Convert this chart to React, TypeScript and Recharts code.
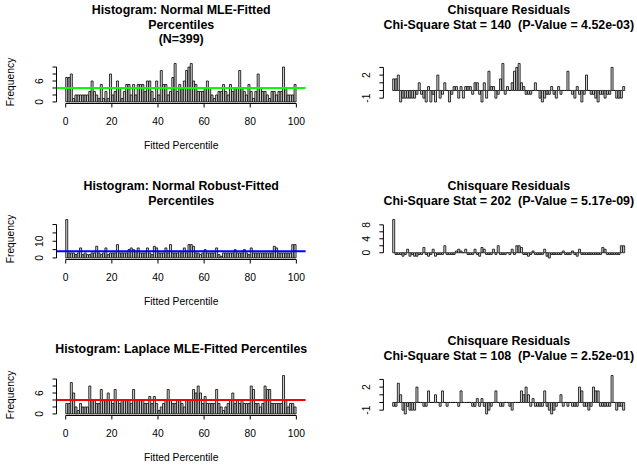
import React from "react";
import { BarChart, Bar, XAxis, YAxis, ReferenceLine } from "recharts";

// percentile bins 0..99 (width 1), N = 399 fitted percentiles per model
const SAMPLE_N = 399;
const binStart = [
  0, 1, 2, 3, 4, 5, 6, 7, 8, 9, 10, 11, 12, 13, 14, 15, 16, 17, 18, 19,
  20, 21, 22, 23, 24, 25, 26, 27, 28, 29, 30, 31, 32, 33, 34, 35, 36, 37, 38, 39,
  40, 41, 42, 43, 44, 45, 46, 47, 48, 49, 50, 51, 52, 53, 54, 55, 56, 57, 58, 59,
  60, 61, 62, 63, 64, 65, 66, 67, 68, 69, 70, 71, 72, 73, 74, 75, 76, 77, 78, 79,
  80, 81, 82, 83, 84, 85, 86, 87, 88, 89, 90, 91, 92, 93, 94, 95, 96, 97, 98, 99,
];

const normalMleCounts = [
  7, 7, 8, 1, 2, 2, 2, 2, 2, 2,
  3, 6, 3, 2, 1, 5, 1, 3, 1, 8,
  2, 3, 6, 4, 1, 3, 5, 5, 2, 5,
  2, 5, 5, 5, 3, 6, 6, 3, 1, 6,
  2, 9, 5, 5, 2, 3, 7, 11, 3, 5,
  4, 6, 9, 10, 11, 6, 5, 3, 3, 3,
  4, 6, 4, 2, 1, 2, 3, 3, 5, 3,
  2, 5, 3, 4, 4, 9, 4, 3, 2, 5,
  3, 1, 3, 8, 4, 3, 3, 2, 1, 3,
  3, 2, 3, 3, 10, 4, 2, 2, 2, 5,
];

const normalRobustCounts = [
  23, 3, 3, 3, 2, 3, 6, 2, 3, 2,
  2, 3, 3, 7, 3, 2, 3, 6, 2, 3,
  3, 3, 8, 3, 3, 3, 3, 5, 6, 5,
  4, 6, 3, 3, 3, 6, 3, 2, 7, 6,
  3, 3, 3, 6, 3, 8, 3, 3, 3, 4,
  3, 6, 3, 8, 8, 7, 3, 3, 2, 3,
  5, 3, 3, 3, 3, 6, 2, 1, 3, 3,
  3, 3, 3, 5, 3, 3, 3, 5, 3, 2,
  6, 3, 3, 3, 3, 3, 3, 3, 3, 3,
  7, 6, 3, 3, 3, 3, 3, 3, 8, 8,
];

const laplaceMleCounts = [
  3, 3, 9, 6, 2, 1, 3, 2, 2, 2,
  8, 4, 4, 3, 3, 7, 4, 4, 6, 4,
  3, 7, 4, 3, 4, 4, 4, 4, 3, 7,
  4, 4, 4, 4, 3, 3, 5, 3, 5, 3,
  1, 2, 3, 4, 7, 4, 3, 3, 4, 4,
  3, 2, 4, 4, 4, 7, 6, 8, 6, 3,
  5, 3, 3, 3, 3, 7, 3, 2, 1, 2,
  3, 4, 6, 3, 4, 3, 4, 3, 3, 3,
  8, 7, 3, 3, 2, 3, 8, 7, 7, 3,
  3, 3, 3, 3, 11, 4, 2, 3, 3, 2,
];

const histTitles = [
  ["Histogram: Normal MLE-Fitted", "Percentiles", "(N=399)"],
  ["Histogram: Normal Robust-Fitted", "Percentiles"],
  ["Histogram: Laplace MLE-Fitted Percentiles"],
];
const chiStats = ["140", "202", "108"];
const chiPValues = ["4.52e-03", "5.17e-09", "2.52e-01"];
const xTicks = [0, 20, 40, 60, 80, 100];
const histYTicks = [
  [0, 2, 4, 6, 8, 10],
  [0, 5, 10, 15, 20],
  [0, 2, 4, 6, 8, 10],
];
const histYLabels = [[0, 6], [0, 10], [0, 6]];
const residYTicks = [
  [-1, 0, 1, 2, 3],
  [0, 2, 4, 6, 8],
  [-1, 0, 1, 2, 3],
];
const residYLabels = [[-1, 2], [0, 4, 8], [-1, 2]];
const lineColors = ["#00ff00", "#0000ff", "#ff0000"];
const allCounts = [normalMleCounts, normalRobustCounts, laplaceMleCounts];

const FONT = "'Liberation Sans', Arial, Helvetica, sans-serif";
const expected = SAMPLE_N / binStart.length;

// layout
const boxTop = [61.7, 217.8, 374.3];
const boxH = 41.5;
const padTop = 5;
const xAxisH = 43.5;
const chartH = padTop + boxH + xAxisH;
const titleY = [
  { left: [10, 24.5, 39], right: [10, 24.5] },
  { left: [186, 200.5], right: [186, 200.5] },
  { left: [349], right: [341, 355.5] },
];

const pad = (lo: number, hi: number): [number, number] => {
  const r = hi - lo;
  return [lo - 0.04 * r, hi + 0.04 * r];
};

const makeYTick = (labels: number[]) => (props: any) => {
  const { x, y, payload } = props;
  if (!labels.includes(payload.value)) return <g />;
  const lx = x - 11;
  return (
    <text
      x={lx}
      y={y}
      transform={`rotate(-90 ${lx} ${y})`}
      textAnchor="middle"
      dominantBaseline="central"
      fontSize={10.3}
      fontFamily={FONT}
      fill="#000"
    >
      {payload.value}
    </text>
  );
};

function Label({ x, y, text, bold, size, rotate }: any) {
  return (
    <div
      style={{
        position: "absolute",
        left: x,
        top: y,
        transform: `translate(-50%, -50%)${rotate ? " rotate(-90deg)" : ""}`,
        whiteSpace: "pre",
        fontSize: size,
        fontWeight: bold ? "bold" : "normal",
        lineHeight: 1,
        fontFamily: FONT,
        color: "#000",
      }}
    >
      {text}
    </div>
  );
}

function HistPanel({ idx }: { idx: number }) {
  const counts = allCounts[idx];
  const rows = binStart.map((b, i) => ({ x: b + 0.5, v: counts[i] }));
  const yDom = pad(0, Math.max(...counts));
  const ticks = histYTicks[idx];
  return (
    <div style={{ position: "absolute", left: 0, top: boxTop[idx] - padTop }}>
      <BarChart
        width={318}
        height={chartH}
        data={rows}
        margin={{ top: padTop, right: 12.4, bottom: 0, left: 0 }}
        barCategoryGap={0}
        barGap={0}
      >
        <XAxis
          type="number"
          dataKey="x"
          domain={[-4, 104]}
          ticks={xTicks}
          interval={0}
          height={xAxisH}
          axisLine={false}
          tickLine={{ stroke: "#000" }}
          tickSize={4}
          tickMargin={10}
          tick={{ fontSize: 10.3, fill: "#000", fontFamily: FONT }}
        />
        <YAxis
          type="number"
          domain={yDom}
          ticks={ticks}
          interval={0}
          width={56.5}
          axisLine={false}
          tickLine={{ stroke: "#000" }}
          tickSize={4}
          tickMargin={2}
          tick={makeYTick(histYLabels[idx])}
        />
        <Bar dataKey="v" fill="#d3d3d3" stroke="#000" strokeWidth={0.8} isAnimationActive={false} />
        <ReferenceLine y={expected} stroke={lineColors[idx]} strokeWidth={2} />
        <ReferenceLine
          segment={[{ x: 0, y: yDom[0] }, { x: 100, y: yDom[0] }]}
          stroke="#000"
          ifOverflow="visible"
        />
        <ReferenceLine
          segment={[{ x: -4, y: ticks[0] }, { x: -4, y: ticks[ticks.length - 1] }]}
          stroke="#000"
          ifOverflow="visible"
        />
      </BarChart>
    </div>
  );
}

function ResidPanel({ idx }: { idx: number }) {
  const counts = allCounts[idx];
  const rows = binStart.map((b, i) => ({
    x: b + 0.5,
    r: (counts[i] - expected) / Math.sqrt(expected),
  }));
  const vals = rows.map((d) => d.r);
  const yDom = pad(Math.min(...vals), Math.max(...vals));
  const ticks = residYTicks[idx];
  return (
    <div style={{ position: "absolute", left: 318, top: boxTop[idx] - padTop }}>
      <BarChart
        width={319}
        height={chartH}
        data={rows}
        margin={{ top: padTop, right: 2.7, bottom: xAxisH, left: 0 }}
        barCategoryGap={0}
        barGap={0}
      >
        <XAxis type="number" dataKey="x" domain={[-4, 104]} hide />
        <YAxis
          type="number"
          domain={yDom}
          ticks={ticks}
          interval={0}
          width={65.4}
          axisLine={false}
          tickLine={{ stroke: "#000" }}
          tickSize={4}
          tickMargin={2}
          tick={makeYTick(residYLabels[idx])}
        />
        <Bar dataKey="r" fill="#d3d3d3" stroke="#000" strokeWidth={0.8} isAnimationActive={false} />
        <ReferenceLine
          segment={[{ x: -4, y: ticks[0] }, { x: -4, y: ticks[ticks.length - 1] }]}
          stroke="#000"
          ifOverflow="visible"
        />
      </BarChart>
    </div>
  );
}

export default function App() {
  const leftCx = 181.2;
  const rightCx = 508.8;
  return (
    <div
      style={{
        position: "absolute",
        left: 0,
        top: 0,
        width: 637,
        height: 465,
        background: "#fff",
        overflow: "hidden",
      }}
    >
      {[0, 1, 2].map((i) => (
        <React.Fragment key={i}>
          <HistPanel idx={i} />
          <ResidPanel idx={i} />
          {histTitles[i].map((t, j) => (
            <Label key={"h" + j} x={leftCx} y={titleY[i].left[j]} text={t} bold size={12.4} />
          ))}
          <Label x={rightCx} y={titleY[i].right[0]} text="Chisquare Residuals" bold size={12.4} />
          <Label
            x={rightCx}
            y={titleY[i].right[1]}
            text={`Chi-Square Stat = ${chiStats[i]}  (P-Value = ${chiPValues[i]})`}
            bold
            size={12.4}
          />
          <Label x={leftCx} y={boxTop[i] + boxH + 42.5} text="Fitted Percentile" size={10.3} />
          <Label x={11} y={boxTop[i] + boxH / 2} text="Frequency" size={10.3} rotate />
        </React.Fragment>
      ))}
    </div>
  );
}
